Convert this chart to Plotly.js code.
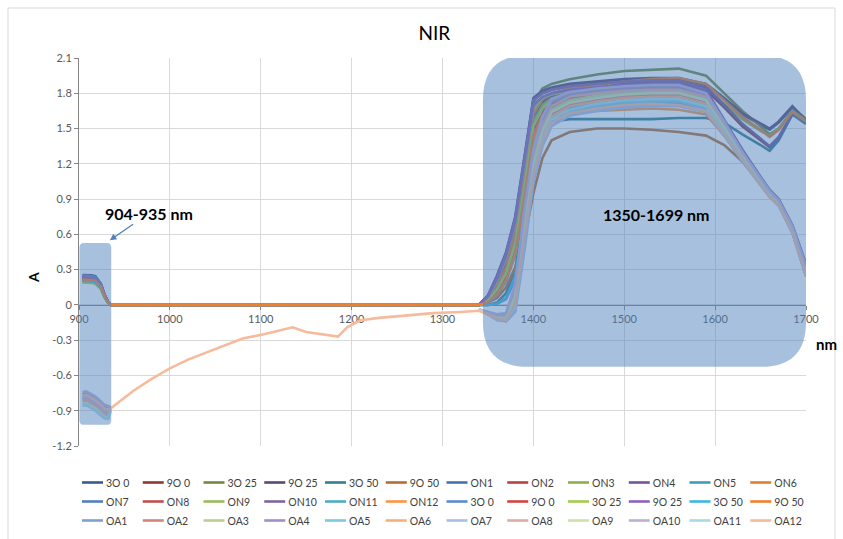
<!DOCTYPE html>
<html>
<head>
<meta charset="utf-8">
<script src="https://cdn.plot.ly/plotly-3.0.1.min.js"></script>
<style>html,body{margin:0;padding:0;background:#fff;}#chart{width:843px;height:539px;}</style>
</head>
<body>
<div id="chart"></div>
<script>
// ---------- DATA ----------
const seriesNames = ['3O 0','9O 0','3O 25','9O 25','3O 50','9O 50','ON1','ON2','ON3','ON4','ON5','ON6',
  'ON7','ON8','ON9','ON10','ON11','ON12','3O 0','9O 0','3O 25','9O 25','3O 50','9O 50',
  'OA1','OA2','OA3','OA4','OA5','OA6','OA7','OA8','OA9','OA10','OA11','OA12'];

// wavelengths (nm)
const XA = [904,908,914,918,924,928,932,935];
const XN = [1340,1350,1360,1370,1380,1390,1400,1410,1420,1440,1470,1500,1530,1560,1590,1610,1630,1650,1660,1670,1685,1700];
const XP = [945,960,980,1000,1020,1040,1060,1080,1100,1120,1135,1150,1170,1185,1195,1210,1230,1260,1290,1320];

// 904-935 nm segment
const A01 = [0.255,0.255,0.252,0.245,0.18,0.09,0.025,0];
const A02 = [0.25,0.25,0.247,0.24,0.18,0.088,0.025,0];
const A03 = [0.2,0.2,0.197,0.19,0.145,0.07,0.02,0];
const A04 = [0.245,0.245,0.242,0.235,0.176,0.086,0.024,0];
const A05 = [0.21,0.21,0.207,0.2,0.151,0.074,0.021,0];
const A06 = [0.22,0.22,0.217,0.21,0.158,0.077,0.022,0];
const A07 = [0.24,0.24,0.237,0.23,0.173,0.084,0.024,0];
const A08 = [0.23,0.23,0.227,0.22,0.166,0.081,0.023,0];
const A09 = [0.195,0.195,0.192,0.185,0.14,0.068,0.02,0];
const A10 = [0.235,0.235,0.232,0.225,0.169,0.082,0.024,0];
const A11 = [0.215,0.215,0.212,0.205,0.155,0.075,0.022,0];
const A12 = [0.225,0.225,0.222,0.215,0.162,0.079,0.023,0];
const A13 = [0.25,0.249,0.246,0.239,0.178,0.087,0.024,0];
const A14 = [0.23,0.229,0.226,0.219,0.165,0.08,0.023,0];
const A15 = [0.2,0.199,0.196,0.189,0.144,0.07,0.02,0];
const A16 = [0.24,0.239,0.236,0.229,0.172,0.084,0.024,0];
const A17 = [0.21,0.209,0.206,0.199,0.15,0.073,0.021,0];
const A18 = [0.22,0.219,0.216,0.209,0.157,0.077,0.022,0];
const A19 = [0.245,0.244,0.241,0.234,0.175,0.086,0.024,0];
const A20 = [0.225,0.224,0.221,0.214,0.161,0.079,0.023,0];
const A21 = [0.19,0.19,0.187,0.18,0.137,0.066,0.019,0];
const A22 = [0.235,0.234,0.231,0.224,0.168,0.082,0.023,0];
const A23 = [0.205,0.205,0.202,0.195,0.148,0.072,0.02,0];
const A24 = [0.215,0.214,0.211,0.204,0.154,0.075,0.021,0];
const A25 = [-0.78,-0.775,-0.8,-0.82,-0.86,-0.89,-0.9,-0.88];
const A26 = [-0.8,-0.795,-0.82,-0.84,-0.88,-0.91,-0.92,-0.89];
const A27 = [-0.83,-0.825,-0.85,-0.87,-0.91,-0.94,-0.95,-0.9];
const A28 = [-0.76,-0.755,-0.78,-0.8,-0.84,-0.87,-0.88,-0.875];
const A29 = [-0.85,-0.845,-0.87,-0.89,-0.93,-0.96,-0.965,-0.9];
const A30 = [-0.82,-0.815,-0.84,-0.86,-0.9,-0.93,-0.94,-0.895];
const A31 = [-0.79,-0.785,-0.81,-0.83,-0.87,-0.9,-0.91,-0.885];
const A32 = [-0.81,-0.805,-0.83,-0.85,-0.89,-0.92,-0.93,-0.89];
const A33 = [-0.84,-0.835,-0.86,-0.88,-0.92,-0.95,-0.96,-0.9];
const A34 = [-0.74,-0.735,-0.76,-0.78,-0.82,-0.85,-0.86,-0.87];
const A35 = [-0.86,-0.855,-0.88,-0.9,-0.94,-0.965,-0.97,-0.9];
const A36 = [-0.77,-0.765,-0.79,-0.81,-0.85,-0.88,-0.89,-0.88];

// OA12 between 935 and 1340 nm
const P36 = [-0.82,-0.73,-0.63,-0.54,-0.465,-0.405,-0.34,-0.285,-0.255,-0.215,-0.19,-0.23,-0.25,-0.27,-0.19,-0.13,-0.11,-0.09,-0.07,-0.06];

// 1340-1700 nm segment
const N01 = [0,0.07,0.22,0.42,0.72,1.22,1.74,1.8,1.83,1.86,1.88,1.9,1.91,1.92,1.87,1.75,1.62,1.53,1.49,1.55,1.68,1.58];
const N02 = [0,0.05,0.17,0.35,0.62,1.1,1.6,1.72,1.76,1.8,1.83,1.86,1.88,1.89,1.83,1.68,1.52,1.4,1.34,1.42,1.62,1.55];
const N03 = [0,0.06,0.2,0.4,0.7,1.2,1.72,1.84,1.88,1.92,1.96,1.99,2.0,2.01,1.95,1.8,1.65,1.52,1.45,1.5,1.65,1.55];
const N04 = [0,0.08,0.25,0.45,0.75,1.25,1.76,1.82,1.85,1.88,1.9,1.92,1.93,1.93,1.88,1.76,1.63,1.54,1.5,1.56,1.69,1.57];
const N05 = [0,0,0.02,0.1,0.3,0.8,1.3,1.5,1.56,1.58,1.58,1.58,1.58,1.59,1.59,1.55,1.45,1.36,1.31,1.4,1.62,1.54];
const N06 = [0,0.02,0.06,0.15,0.32,0.55,0.95,1.25,1.4,1.47,1.5,1.5,1.49,1.47,1.44,1.36,1.22,1.03,0.94,0.87,0.64,0.3];
const N07 = [0,0.06,0.19,0.38,0.66,1.15,1.62,1.66,1.68,1.71,1.73,1.75,1.76,1.76,1.7,1.48,1.26,1.06,0.96,0.88,0.66,0.32];
const N08 = [0,0.07,0.21,0.41,0.7,1.2,1.68,1.75,1.78,1.81,1.83,1.85,1.86,1.86,1.79,1.55,1.3,1.08,0.97,0.89,0.67,0.33];
const N09 = [0,0.04,0.14,0.3,0.56,1.02,1.55,1.7,1.76,1.8,1.84,1.87,1.89,1.9,1.85,1.71,1.58,1.48,1.44,1.5,1.65,1.57];
const N10 = [0,0.05,0.18,0.36,0.64,1.12,1.62,1.74,1.78,1.82,1.85,1.88,1.9,1.9,1.85,1.7,1.54,1.41,1.35,1.43,1.63,1.56];
const N11 = [0,0.03,0.1,0.23,0.46,0.93,1.46,1.62,1.71,1.75,1.78,1.8,1.81,1.81,1.75,1.52,1.27,1.05,0.95,0.87,0.64,0.28];
const N12 = [0,0.04,0.15,0.32,0.6,1.1,1.62,1.75,1.8,1.84,1.87,1.9,1.92,1.93,1.88,1.74,1.6,1.49,1.43,1.49,1.64,1.56];
const N13 = [0,0.03,0.11,0.24,0.48,0.96,1.48,1.58,1.64,1.68,1.7,1.72,1.73,1.73,1.67,1.46,1.24,1.03,0.93,0.86,0.63,0.27];
const N14 = [0,0.04,0.12,0.26,0.5,0.98,1.5,1.66,1.74,1.78,1.81,1.83,1.84,1.84,1.78,1.54,1.29,1.07,0.96,0.88,0.66,0.31];
const N15 = [0,0.06,0.2,0.4,0.69,1.19,1.66,1.76,1.79,1.82,1.84,1.86,1.87,1.87,1.8,1.56,1.31,1.08,0.97,0.89,0.67,0.34];
const N16 = [0,0.08,0.24,0.44,0.74,1.24,1.74,1.8,1.83,1.86,1.88,1.9,1.91,1.91,1.83,1.58,1.32,1.09,0.98,0.9,0.68,0.35];
const N17 = [0,0.02,0.08,0.2,0.42,0.88,1.42,1.6,1.69,1.73,1.76,1.78,1.79,1.79,1.73,1.5,1.26,1.04,0.94,0.86,0.63,0.27];
const N18 = [0,0.03,0.1,0.22,0.44,0.9,1.4,1.54,1.6,1.63,1.65,1.66,1.67,1.66,1.62,1.44,1.23,1.03,0.93,0.86,0.63,0.28];
const N19 = [0,0,0.01,0.05,0.22,0.68,1.22,1.48,1.59,1.65,1.68,1.7,1.71,1.71,1.66,1.46,1.24,1.03,0.93,0.85,0.62,0.26];
const N20 = [0,0.03,0.11,0.24,0.47,0.95,1.47,1.63,1.71,1.76,1.78,1.8,1.81,1.8,1.74,1.51,1.27,1.05,0.95,0.87,0.65,0.3];
const N21 = [0,0.04,0.13,0.27,0.52,1.0,1.52,1.67,1.74,1.78,1.8,1.82,1.83,1.83,1.77,1.53,1.28,1.06,0.96,0.88,0.66,0.31];
const N22 = [0,0.07,0.22,0.42,0.71,1.21,1.7,1.77,1.8,1.83,1.85,1.87,1.88,1.88,1.81,1.57,1.31,1.08,0.97,0.89,0.67,0.34];
const N23 = [0,0,0.01,0.06,0.24,0.72,1.26,1.5,1.62,1.68,1.71,1.73,1.74,1.74,1.68,1.47,1.25,1.04,0.94,0.86,0.63,0.27];
const N24 = [0,0.02,0.09,0.21,0.44,0.9,1.44,1.61,1.69,1.73,1.75,1.77,1.78,1.78,1.72,1.5,1.26,1.04,0.94,0.86,0.64,0.29];
const N25 = [-0.04,-0.08,-0.12,-0.13,0.0,0.58,1.12,1.4,1.55,1.63,1.67,1.7,1.71,1.71,1.66,1.45,1.23,1.02,0.92,0.85,0.62,0.25];
const N26 = [-0.04,-0.07,-0.11,-0.12,0.05,0.64,1.18,1.46,1.62,1.71,1.75,1.78,1.79,1.79,1.73,1.5,1.26,1.04,0.94,0.86,0.64,0.28];
const N27 = [-0.04,-0.07,-0.1,-0.1,0.1,0.7,1.22,1.5,1.66,1.74,1.78,1.8,1.81,1.81,1.75,1.52,1.27,1.05,0.95,0.87,0.65,0.3];
const N28 = [-0.04,-0.06,-0.09,-0.08,0.15,0.76,1.28,1.56,1.72,1.79,1.82,1.84,1.85,1.85,1.78,1.55,1.29,1.07,0.96,0.88,0.66,0.32];
const N29 = [-0.04,-0.08,-0.12,-0.14,-0.05,0.5,1.08,1.38,1.55,1.64,1.69,1.72,1.73,1.73,1.67,1.46,1.24,1.03,0.93,0.85,0.62,0.25];
const N30 = [-0.04,-0.07,-0.11,-0.12,0.04,0.62,1.16,1.44,1.6,1.69,1.73,1.76,1.77,1.77,1.71,1.49,1.25,1.04,0.94,0.86,0.63,0.27];
const N31 = [-0.04,-0.08,-0.13,-0.14,-0.06,0.45,1.04,1.35,1.52,1.61,1.65,1.68,1.69,1.69,1.64,1.44,1.22,1.02,0.92,0.84,0.61,0.24];
const N32 = [-0.04,-0.07,-0.1,-0.09,0.12,0.72,1.25,1.53,1.69,1.77,1.8,1.82,1.83,1.83,1.77,1.53,1.28,1.06,0.95,0.87,0.65,0.31];
const N33 = [-0.04,-0.07,-0.11,-0.11,0.07,0.66,1.2,1.48,1.64,1.72,1.76,1.79,1.8,1.8,1.74,1.51,1.27,1.05,0.94,0.86,0.64,0.29];
const N34 = [-0.04,-0.06,-0.08,-0.07,0.18,0.8,1.32,1.6,1.75,1.81,1.84,1.86,1.87,1.87,1.8,1.56,1.3,1.08,0.97,0.89,0.67,0.33];
const N35 = [-0.04,-0.08,-0.12,-0.13,-0.02,0.55,1.12,1.41,1.58,1.66,1.71,1.74,1.75,1.75,1.69,1.47,1.24,1.03,0.93,0.85,0.63,0.26];
const N36 = [-0.05,-0.08,-0.12,-0.13,0.0,0.56,1.1,1.39,1.55,1.63,1.67,1.7,1.71,1.7,1.65,1.45,1.23,1.02,0.92,0.85,0.62,0.25];

const yTickVals = [-1.2,-0.9,-0.6,-0.3,0,0.3,0.6,0.9,1.2,1.5,1.8,2.1];
const yTickText = ['-1.2','-0.9','-0.6','-0.3','0','0.3','0.6','0.9','1.2','1.5','1.8','2.1'];

// ---------- STYLE ----------
const seriesColors = ['#385D8A','#8C3836','#71893F','#5C4776','#357D91','#B66D31',
  '#4572B4','#B8433F','#8DB04A','#73569A','#3E9DBA','#E07F33',
  '#4F81BD','#C0504D','#9BBB59','#8064A2','#4BACC6','#F79646',
  '#5A8AD0','#D4443F','#A3CC50','#8C62BC','#3CB8DE','#F0802A',
  '#7EA0D4','#D6837F','#B6D28C','#A28EC4','#7EC9DF','#F9AE7A',
  '#A8BEE4','#DDAAA6','#CCE1AE','#BDB0D7','#A8D9E8','#F5BB9C'];

const Aarr = [A01,A02,A03,A04,A05,A06,A07,A08,A09,A10,A11,A12,A13,A14,A15,A16,A17,A18,A19,A20,A21,A22,A23,A24,A25,A26,A27,A28,A29,A30,A31,A32,A33,A34,A35,A36];
const Narr = [N01,N02,N03,N04,N05,N06,N07,N08,N09,N10,N11,N12,N13,N14,N15,N16,N17,N18,N19,N20,N21,N22,N23,N24,N25,N26,N27,N28,N29,N30,N31,N32,N33,N34,N35,N36];

const traces = seriesNames.map((nm, i) => {
  let x, y;
  if (i < 24) {            // zero between 935 and 1340
    x = XA.concat(XN); y = Aarr[i].concat(Narr[i]);
  } else if (i < 35) {     // gap between segments
    x = XA.concat([null], XN); y = Aarr[i].concat([null], Narr[i]);
  } else {                 // OA12 continuous
    x = XA.concat(XP, XN); y = Aarr[i].concat(P36, Narr[i]);
  }
  return {type:'scatter', mode:'lines', name:nm, x:x, y:y, connectgaps:false,
    line:{color:seriesColors[i], width:2.6}, hoverinfo:'skip'};
});

// rounded rectangle path helper (annotation geometry)
function rr(x0,x1,y0,y1,rx,ry){
  return `M${x0+rx},${y1} L${x1-rx},${y1} Q${x1},${y1} ${x1},${y1-ry} L${x1},${y0+ry} Q${x1},${y0} ${x1-rx},${y0} `+
         `L${x0+rx},${y0} Q${x0},${y0} ${x0},${y0+ry} L${x0},${y1-ry} Q${x0},${y1} ${x0+rx},${y1} Z`;
}

const F = 'Lato, "Open Sans", sans-serif';
const layout = {
  width:843, height:539,
  margin:{l:79, r:37, t:58, b:93},
  paper_bgcolor:'#fff', plot_bgcolor:'#fff',
  font:{family:F, color:'#595959', size:11},
  title:{text:'NIR', x:412/843, xanchor:'center', xref:'paper', y:1-33/539, yanchor:'middle', yref:'container',
    font:{family:F, size:19, color:'#000'}},
  showlegend:true,
  legend:{orientation:'h', xref:'container', yref:'container', x:77/843, xanchor:'left', y:1-468/539, yanchor:'top',
    font:{family:F, size:10.5, color:'#404040'}, entrywidth:15.75, entrywidthmode:'pixels',
    itemwidth:30, tracegroupgap:0, traceorder:'normal', bgcolor:'rgba(0,0,0,0)'},
  xaxis:{range:[900,1700], tick0:900, dtick:100, showgrid:true, gridcolor:'#D9D9D9', gridwidth:1,
    anchor:'free', position:1.2/3.3, showline:true, linecolor:'#868686', linewidth:1, layer:'below traces',
    ticks:'outside', ticklen:4, tickcolor:'#868686', zeroline:false,
    tickfont:{family:F, size:11, color:'#595959'}},
  yaxis:{range:[-1.2,2.1], tickvals:yTickVals, ticktext:yTickText, showgrid:true, gridcolor:'#D9D9D9', gridwidth:1,
    showline:true, linecolor:'#868686', linewidth:1, ticks:'outside', ticklen:4, tickcolor:'#868686', layer:'below traces',
    zeroline:false, tickfont:{family:F, size:11, color:'#595959'}},
  shapes:[
    {type:'rect', xref:'paper', yref:'paper', x0:-71/727, x1:756/727, y0:-0.3, y1:438/388,
      line:{color:'#D9D9D9', width:1}, fillcolor:'rgba(0,0,0,0)', layer:'below'},
    {type:'path', xref:'x', yref:'y', path:rr(900.5,935.5,-1.02,0.527,5,0.04),
      fillcolor:'rgba(79,129,189,0.5)', line:{width:0}, layer:'above'},
    {type:'path', xref:'x', yref:'y', path:rr(1344.5,1700,-0.527,2.125,50,0.38),
      fillcolor:'rgba(79,129,189,0.5)', line:{width:0}, layer:'above'}
  ],
  annotations:[
    {x:934, y:0.55, xref:'x', yref:'y', ax:977, ay:0.78, axref:'x', ayref:'y',
      text:'<b>904-935 nm</b>', showarrow:true, arrowhead:2, arrowsize:1, arrowwidth:1.3, arrowcolor:'#4F81BD',
      font:{family:F, size:16, color:'#000'}},
    {x:1536, y:0.765, xref:'x', yref:'y', text:'<b>1350-1699 nm</b>', showarrow:false,
      font:{family:F, size:16, color:'#000'}},
    {x:(826-79)/727, y:(446-344)/388, xref:'paper', yref:'paper', xanchor:'center', yanchor:'middle',
      text:'<b>nm</b>', showarrow:false, font:{family:F, size:15, color:'#000'}},
    {x:(33-79)/727, y:(446-277)/388, xref:'paper', yref:'paper', xanchor:'center', yanchor:'middle',
      text:'<b>A</b>', showarrow:false, textangle:-90, font:{family:F, size:14, color:'#000'}}
  ]
};

Plotly.newPlot('chart', traces, layout, {staticPlot:true, displayModeBar:false}).then(gd => {
  // Excel-like legend keys: shorter sample line, label right after it
  gd.querySelectorAll('.legend .traces').forEach(g => {
    g.querySelectorAll('.legendlines path').forEach(p => p.setAttribute('d', 'M5,0h21'));
    g.querySelectorAll('text.legendtext').forEach(t => t.setAttribute('transform', 'translate(-11,0)'));
  });
});
</script>
</body>
</html>
